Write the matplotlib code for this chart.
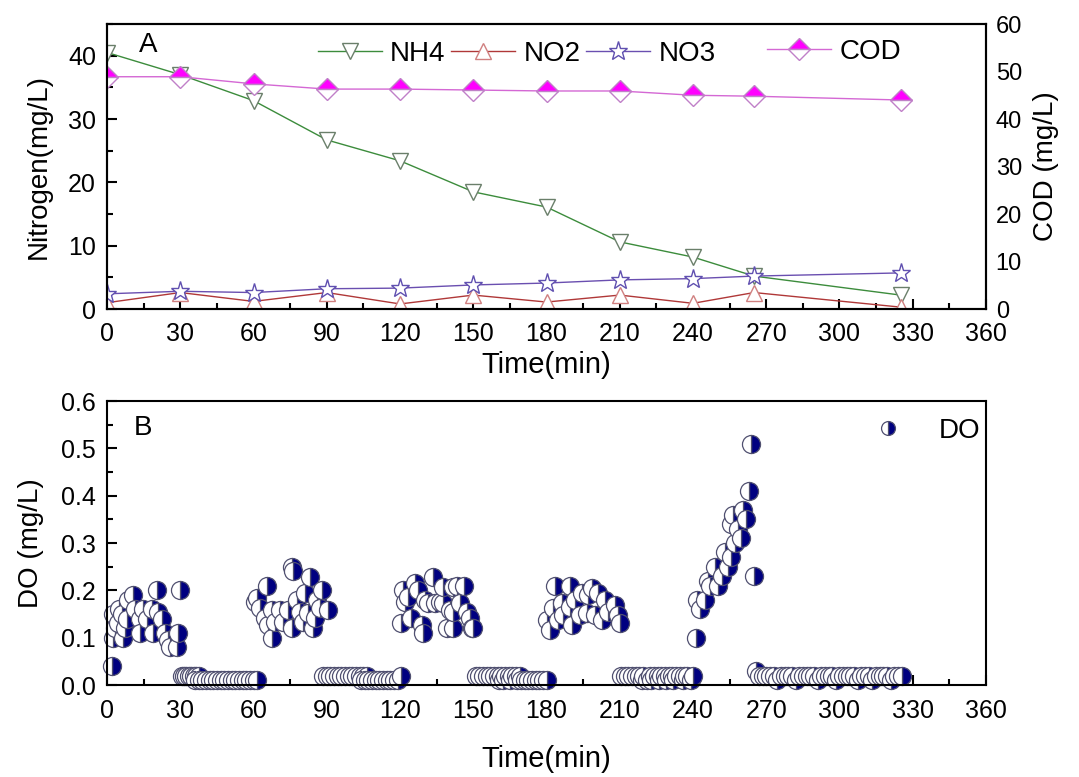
import numpy as np
import matplotlib
matplotlib.use("Agg")
import matplotlib.pyplot as plt
from matplotlib.ticker import MultipleLocator
from matplotlib.lines import Line2D

plt.rcParams['font.family'] = ['Liberation Sans', 'DejaVu Sans']

# panel A
time = [0, 30, 60, 90, 120, 150, 180, 210, 240, 265, 325]
nh4 = [40.5, 37.0, 32.9, 26.7, 23.4, 18.5, 16.1, 10.6, 8.2, 5.2, 2.2]
no2 = [1.0, 2.6, 1.2, 2.6, 0.8, 2.2, 1.1, 2.2, 0.9, 2.6, 0.3]
no3 = [2.4, 2.8, 2.6, 3.2, 3.3, 3.8, 4.1, 4.6, 4.8, 5.2, 5.7]
cod = [48.9, 48.9, 47.4, 46.3, 46.3, 46.1, 45.9, 45.9, 45.0, 44.8, 44.0]

# panel B, DO readings per phase
c1_t = [1.9, 2.6, 2.6, 3.3, 4.5, 5.0, 6.0, 6.7, 7.4, 8.0, 8.7, 10.8, 11.5, 13.5, 13.5,
        14.9, 16.2, 18.3, 18.9, 20.3, 21.0, 22.4, 23.7, 25.1, 25.8, 28.5, 29.2, 29.9]
c1_v = [0.04, 0.15, 0.10, 0.12, 0.13, 0.16, 0.15, 0.10, 0.12, 0.14, 0.18, 0.19, 0.16, 0.14, 0.11,
        0.16, 0.14, 0.16, 0.11, 0.20, 0.155, 0.14, 0.11, 0.095, 0.08, 0.08, 0.11, 0.20]
l1_t = [30.5, 31.5, 32.5, 33.5, 34.5, 35.5, 36.5, 37.5, 36.0, 37.5, 39.0, 40.5, 42.0, 43.5,
        45.0, 46.5, 48.0, 49.5, 51.0, 52.5, 54.0, 55.5, 57.0, 58.5, 60.0, 61.5]
l1_v = [0.02, 0.02, 0.02, 0.02, 0.02, 0.02, 0.02, 0.02, 0.01, 0.01, 0.01, 0.01, 0.01, 0.01,
        0.01, 0.01, 0.01, 0.01, 0.01, 0.01, 0.01, 0.01, 0.01, 0.01, 0.01, 0.01]
c2_t = [60.6, 61.3, 62.7, 64.7, 65.4, 66.0, 67.4, 67.4, 68.8, 70.8, 72.2, 74.2, 75.6, 75.6,
        76.3, 77.7, 79.0, 80.4, 81.1, 82.4, 83.1, 84.5, 85.2, 85.9, 87.2, 87.9, 90.6]
c2_v = [0.176, 0.184, 0.163, 0.142, 0.21, 0.127, 0.10, 0.158, 0.133, 0.158, 0.133, 0.158, 0.25, 0.12,
        0.24, 0.18, 0.155, 0.133, 0.194, 0.152, 0.228, 0.12, 0.142, 0.18, 0.163, 0.20, 0.158]
l2_t = [88.5, 90.0, 91.5, 93.0, 94.5, 96.0, 97.5, 99.0, 100.5, 102.0, 103.5, 105.0, 106.5,
        104.0, 105.5, 107.0, 108.5, 110.0, 111.5, 113.0, 114.5, 116.0, 117.5, 119.0, 120.5]
l2_v = [0.02, 0.02, 0.02, 0.02, 0.02, 0.02, 0.02, 0.02, 0.02, 0.02, 0.02, 0.02, 0.02,
        0.01, 0.01, 0.01, 0.01, 0.01, 0.01, 0.01, 0.01, 0.01, 0.01, 0.01, 0.02]
c3_t = [120.6, 121.3, 122.0, 123.4, 124.7, 126.1, 127.5, 128.8, 129.5, 130.2, 131.6, 133.6, 134.3,
        136.4, 137.6, 137.7, 139.1, 140.5, 141.8, 141.8, 141.8, 143.2, 144.6, 146.0, 147.3, 148.6,
        149.3, 150.0]
c3_v = [0.13, 0.20, 0.175, 0.186, 0.142, 0.216, 0.20, 0.127, 0.11, 0.18, 0.173, 0.228, 0.173,
        0.175, 0.173, 0.207, 0.12, 0.158, 0.207, 0.12, 0.155, 0.21, 0.173, 0.21, 0.155, 0.142,
        0.12, 0.12]
l3_t = [151.0, 152.5, 154.0, 155.5, 157.0, 158.5, 160.0, 160.5, 161.5, 162.0, 163.0, 164.5, 165.0,
        166.0, 167.5, 168.0, 169.0, 169.5, 171.0, 172.5, 174.0, 175.5, 177.0, 178.5, 180.0]
l3_v = [0.02, 0.02, 0.02, 0.02, 0.02, 0.02, 0.02, 0.01, 0.02, 0.01, 0.02, 0.02, 0.01,
        0.02, 0.02, 0.01, 0.02, 0.01, 0.01, 0.01, 0.01, 0.01, 0.01, 0.01, 0.01]
c4_t = [180.0, 181.4, 182.8, 183.5, 184.8, 186.2, 186.9, 189.6, 189.6, 190.3, 191.6, 193.7, 194.4,
        196.4, 197.1, 198.5, 199.8, 201.2, 202.6, 203.9, 205.3, 208.0, 209.4, 210.1]
c4_v = [0.137, 0.116, 0.163, 0.21, 0.137, 0.173, 0.148, 0.21, 0.165, 0.127, 0.18, 0.148, 0.194,
        0.152, 0.19, 0.205, 0.148, 0.194, 0.137, 0.18, 0.155, 0.169, 0.148, 0.13]
l4_t = [210.5, 212.0, 213.5, 215.0, 216.5, 218.0, 219.0, 219.5, 221.0, 222.5, 223.0, 224.0, 225.5,
        226.0, 227.0, 228.5, 229.0, 230.0, 231.5, 232.0, 233.0, 234.5, 236.0, 236.5, 237.5, 239.0,
        240.0]
l4_v = [0.02, 0.02, 0.02, 0.02, 0.02, 0.02, 0.01, 0.02, 0.01, 0.02, 0.01, 0.02, 0.02,
        0.01, 0.02, 0.02, 0.01, 0.02, 0.02, 0.01, 0.02, 0.02, 0.01, 0.02, 0.02, 0.01,
        0.02]
r_t = [241.2, 241.5, 242.8, 244.9, 246.2, 246.9, 249.0, 250.3, 251.7, 253.0, 254.4, 255.7, 255.7,
       256.4, 257.1, 258.5, 259.8, 260.5, 261.9, 263.0, 263.9, 265.0]
r_v = [0.10, 0.18, 0.16, 0.18, 0.22, 0.21, 0.25, 0.21, 0.23, 0.28, 0.25, 0.27, 0.34,
       0.36, 0.30, 0.33, 0.31, 0.37, 0.35, 0.41, 0.51, 0.23]
l5_t = [266.0, 267.0, 268.5, 270.0, 271.5, 273.0, 274.5, 276.0, 277.5, 279.0, 280.5, 282.0, 283.5,
        285.0, 286.5, 288.0, 289.5, 291.0, 292.5, 294.0, 295.5, 297.0, 298.5, 300.0, 301.5,
        303.0, 304.5, 306.0, 307.5, 309.0, 310.5, 312.0, 313.5, 315.0, 316.5, 318.0, 319.5,
        321.0, 322.5, 324.0, 325.5]
l5_v = [0.03, 0.02, 0.02, 0.02, 0.02, 0.02, 0.01, 0.02, 0.02, 0.02, 0.02, 0.01, 0.02,
        0.02, 0.02, 0.02, 0.02, 0.01, 0.02, 0.02, 0.02, 0.02, 0.01, 0.02, 0.02,
        0.02, 0.02, 0.02, 0.01, 0.02, 0.02, 0.02, 0.01, 0.02, 0.02, 0.02, 0.02,
        0.01, 0.02, 0.02, 0.02]

do_t = c1_t + l1_t + c2_t + l2_t + c3_t + l3_t + c4_t + l4_t + r_t + l5_t
do_v = c1_v + l1_v + c2_v + l2_v + c3_v + l3_v + c4_v + l4_v + r_v + l5_v

fig = plt.figure(figsize=(10.79, 7.77), dpi=100)
ax1 = fig.add_axes([0.0992, 0.6023, 0.8146, 0.3668])
ax3 = fig.add_axes([0.0992, 0.1184, 0.8146, 0.3655])

ms = 12
ax1.plot(time, nh4, color='#3c8c3c', lw=1, marker='v', ms=ms, mfc='white', mec='#6a7f6a', mew=1,
         label='NH4')
ax1.plot(time, no2, color='#b03838', lw=1, marker='^', ms=ms, mfc='white', mec='#d08080', mew=1,
         label='NO2')
ax1.plot(time, no3, color='#6a4fb0', lw=1, marker='*', ms=ms + 2, mfc='white', mec='#6050b0',
         mew=1, label='NO3')
ax1.set_xlim(0, 360)
ax1.set_ylim(0, 45)
ax1.xaxis.set_major_locator(MultipleLocator(30))
ax1.xaxis.set_minor_locator(MultipleLocator(15))
ax1.yaxis.set_major_locator(MultipleLocator(10))
ax1.yaxis.set_minor_locator(MultipleLocator(5))
ax1.set_xlabel('Time(min)', fontsize=21, labelpad=4)
ax1.set_ylabel('Nitrogen(mg/L)', fontsize=20, labelpad=12)
ax1.tick_params(which='both', direction='in', top=False, right=False, labelsize=18, width=1.5)
ax1.tick_params(which='major', length=7)
ax1.tick_params(which='minor', length=4)
ax1.tick_params(axis='x', pad=9)
ax1.tick_params(axis='y', pad=8)
ax1.text(0.047, 0.925, 'A', transform=ax1.transAxes, fontsize=20, va='center', ha='center')

ax2 = ax1.twinx()
ax2.plot(time, cod, color='#d468d4', lw=1, marker='D', ms=ms - 1, fillstyle='top', mfc='#ff00ff',
         mfcalt='white', mec='#c080c8', mew=1, label='COD')
ax2.set_ylim(0, 60)
ax2.yaxis.set_major_locator(MultipleLocator(10))
ax2.set_ylabel('COD (mg/L)', fontsize=20, labelpad=8)
ax2.tick_params(axis='y', length=0, pad=7, labelsize=17)

for a in (ax1, ax2, ax3):
    for s in a.spines.values():
        s.set_linewidth(1.5)

ax1.legend(loc='center left', bbox_to_anchor=(0.24, 0.895), ncol=3, frameon=False, fontsize=20,
           handlelength=2.3, handletextpad=0.3, columnspacing=0.2, borderpad=0, borderaxespad=0)
ax2.legend(loc='center left', bbox_to_anchor=(0.751, 0.902), frameon=False, fontsize=20,
           handlelength=2.3, handletextpad=0.3, borderpad=0, borderaxespad=0)

ax3.plot(do_t, do_v, linestyle='none', marker='o', ms=13, fillstyle='right', mfc='#000080',
         mfcalt='white', mec='#505070', mew=0.9, label='DO', clip_on=False)
ax3.set_xlim(0, 360)
ax3.set_ylim(0, 0.6)
ax3.xaxis.set_major_locator(MultipleLocator(30))
ax3.xaxis.set_minor_locator(MultipleLocator(15))
ax3.yaxis.set_major_locator(MultipleLocator(0.1))
ax3.yaxis.set_minor_locator(MultipleLocator(0.05))
ax3.yaxis.set_major_formatter(matplotlib.ticker.FormatStrFormatter('%.1f'))
ax3.set_xlabel('Time(min)', fontsize=21, labelpad=16)
ax3.set_ylabel('DO (mg/L)', fontsize=20, labelpad=12)
ax3.tick_params(which='both', direction='in', top=False, right=False, labelsize=18, width=1.5)
ax3.tick_params(which='major', length=7)
ax3.tick_params(which='minor', length=4)
ax3.tick_params(axis='x', pad=10)
ax3.tick_params(axis='y', pad=8)
ax3.text(0.041, 0.905, 'B', transform=ax3.transAxes, fontsize=20, va='center', ha='center')
h = Line2D([], [], linestyle='none', marker='o', ms=10, fillstyle='right', mfc='#000080',
           mfcalt='white', mec='#505070', mew=0.9)
ax3.legend([h], ['DO'], loc='center left', bbox_to_anchor=(0.87, 0.894), frameon=False,
           fontsize=20, handlelength=1.2, handletextpad=1.2, borderpad=0, borderaxespad=0)

fig.savefig('out.png', dpi=100)
